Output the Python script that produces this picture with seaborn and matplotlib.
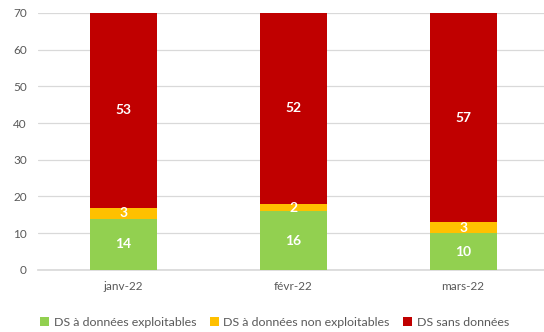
import numpy as np
import pandas as pd
import matplotlib
matplotlib.use("Agg")
import matplotlib.pyplot as plt
import seaborn as sns
from matplotlib.patches import Patch

months = ["janv-22", "févr-22", "mars-22"]
exploitables = [14, 16, 10]
non_exploitables = [3, 2, 3]
sans_donnees = [53, 52, 57]

series_names = ["DS à données exploitables", "DS à données non exploitables", "DS sans données"]
colors = ["#92D050", "#FFC000", "#C00000"]

sns.set_theme(style="white")
plt.rcParams["font.family"] = ["Lato", "DejaVu Sans"]

df = pd.DataFrame({
    "mois": months,
    "expl": exploitables,
    "nonexpl": non_exploitables,
    "sans": sans_donnees,
})
df["c1"] = df["expl"]
df["c2"] = df["c1"] + df["nonexpl"]
df["c3"] = df["c2"] + df["sans"]

fig = plt.figure(figsize=(5.44, 3.32), dpi=100)
ax = fig.add_axes([0.07, 0.187, 0.9375, 0.774])

# stacked bars drawn back to front from cumulative totals
for col, color in zip(["c3", "c2", "c1"], colors[::-1]):
    sns.barplot(data=df, x="mois", y=col, color=color, width=0.394,
                saturation=1, linewidth=0, ax=ax, zorder=3)

# value labels centred in each segment
for i, row in df.iterrows():
    segs = [(0, row["expl"]), (row["c1"], row["nonexpl"]), (row["c2"], row["sans"])]
    for base, val in segs:
        ax.text(i, base + val / 2, f"{val}", ha="center", va="center",
                color="white", fontweight="bold", fontsize=10, zorder=5)

ax.set_ylim(0, 70)
ax.set_xlim(-0.5, 2.5)
ax.set_yticks(range(0, 71, 10))
ax.yaxis.grid(True, color="#D9D9D9", linewidth=0.9, zorder=0)
ax.set_axisbelow(True)
for s in ["top", "right", "left"]:
    ax.spines[s].set_visible(False)
ax.spines["bottom"].set_color("#D9D9D9")
ax.set_xlabel("")
ax.set_ylabel("")
ax.tick_params(axis="both", length=0, labelsize=8.5, labelcolor="#595959")
ax.tick_params(axis="x", pad=8)
ax.tick_params(axis="y", pad=8)

handles = [Patch(facecolor=c, edgecolor="none") for c in colors]
fig.legend(handles, series_names, loc="center", bbox_to_anchor=(0.505, 0.03),
           ncol=3, frameon=False, fontsize=8.9, handlelength=0.7, handleheight=0.7,
           handletextpad=0.4, columnspacing=1.1, labelcolor="#595959")

fig.savefig("out.png", dpi=100)
